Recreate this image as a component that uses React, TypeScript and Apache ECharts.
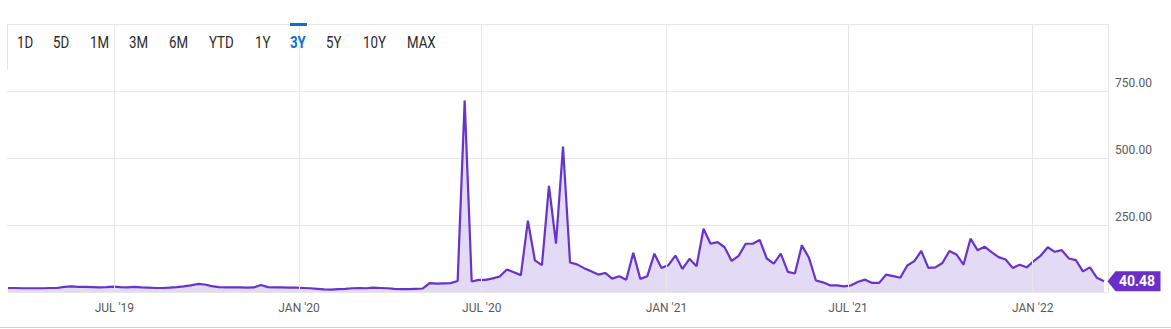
import React, { useEffect, useRef } from "react";
import * as echarts from "echarts";

// Weekly observations, first week starting 2019-03-17
const SERIES_START = [2019, 2, 17];
const weeklyValues: number[] = [
  15, 15, 14, 14, 14, 14, 15, 15, 19, 21,
  19, 19, 18, 17, 18, 20, 18, 17, 19, 17,
  16, 15, 15, 16, 18, 21, 25, 30, 28, 22,
  18, 17, 17, 17, 16, 17, 26, 18, 17, 17,
  16, 16, 15, 14, 12, 10, 9, 11, 12, 14,
  15, 14, 16, 15, 14, 12, 11, 11, 12, 13,
  33, 31, 32, 33, 41, 714, 39, 45, 45, 51,
  58, 84, 74, 63, 266, 118, 100, 396, 181, 543,
  110, 103, 89, 77, 65, 71, 50, 59, 46, 146,
  49, 59, 143, 90, 100, 136, 86, 124, 96, 236,
  180, 186, 167, 116, 135, 180, 180, 194, 125, 106,
  143, 75, 69, 174, 128, 43, 36, 25, 25, 21,
  25, 38, 46, 34, 34, 65, 59, 53, 99, 115,
  153, 90, 92, 108, 153, 140, 102, 199, 156, 169,
  149, 130, 121, 90, 102, 92, 115, 136, 167, 150,
  156, 125, 119, 77, 92, 53, 40.48,
];
const lastLabel = "40.48";

const xMin = "2019-03-16";
const xMax = "2022-03-17";
const xTickDates = ["2019-07-01", "2020-01-01", "2020-07-01", "2021-01-01", "2021-07-01", "2022-01-01"];
const xTickLabels = ["JUL '19", "JAN '20", "JUL '20", "JAN '21", "JUL '21", "JAN '22"];

const yTicks = [0, 250, 500, 750, 1000];
const yLabelTicks = [250, 500, 750];

const rangeButtons = ["1D", "5D", "1M", "3M", "6M", "YTD", "1Y", "3Y", "5Y", "10Y", "MAX"];
const activeButton = "3Y";
const buttonX = [17, 53, 90, 129, 169, 209, 255, 290, 326, 363, 407];

function parseDay(s: string): number {
  const [y, m, d] = s.split("-").map(Number);
  return new Date(y, m - 1, d).getTime();
}

export default function App() {
  const ref = useRef<HTMLDivElement>(null);

  useEffect(() => {
    if (!ref.current) return;
    const chart = echarts.init(ref.current, undefined, { renderer: "svg" });

    const data = weeklyValues.map((v, i) => {
      const t = new Date(SERIES_START[0], SERIES_START[1], SERIES_START[2] + i * 7).getTime();
      return [t, v];
    });
    const last = data[data.length - 1];
    const tickTimes = xTickDates.map(parseDay);

    const buttons: any[] = rangeButtons.map((b, i) => ({
      type: "text",
      x: buttonX[i],
      y: 43,
      scaleX: 0.83,
      z: 100,
      silent: true,
      style: {
        text: b,
        x: 0,
        y: 0,
        fontFamily: "Roboto",
        fontSize: 16,
        fontWeight: b === activeButton ? "bold" : "normal",
        fill: b === activeButton ? "#0b6fcf" : "#2a2a2a",
        textAlign: "left",
        textVerticalAlign: "middle",
      },
    }));
    const activeIdx = rangeButtons.indexOf(activeButton);

    chart.setOption({
      animation: false,
      textStyle: { fontFamily: "Roboto" },
      grid: { left: 7, right: 63, top: 24, bottom: 37 },
      xAxis: {
        type: "value",
        min: parseDay(xMin),
        max: parseDay(xMax),
        axisLine: { show: false },
        axisTick: { show: false },
        splitLine: { show: false },
        axisLabel: {
          customValues: tickTimes,
          formatter: (v: number) => {
            const idx = tickTimes.findIndex((t) => Math.abs(t - v) < 86400000);
            return idx >= 0 ? xTickLabels[idx] : "";
          },
          color: "#5a5a5a",
          fontSize: 12,
          fontFamily: "Roboto",
          margin: 10,
          hideOverlap: false,
        },
      },
      yAxis: {
        type: "value",
        position: "right",
        min: yTicks[0],
        max: yTicks[yTicks.length - 1],
        interval: 250,
        axisLine: { show: true, lineStyle: { color: "#e3e3e3", width: 1 } },
        axisTick: { show: false },
        splitLine: { show: true, lineStyle: { color: "#e6e6e6", width: 1 } },
        axisLabel: {
          formatter: (v: number) => (yLabelTicks.includes(v) ? v.toFixed(2) : ""),
          color: "#5a5a5a",
          fontSize: 12,
          fontFamily: "Roboto",
          margin: 7,
          verticalAlign: "bottom",
          lineHeight: 17,
        },
      },
      graphic: [
        ...buttons,
        {
          type: "rect",
          silent: true,
          z: 100,
          shape: { x: buttonX[activeIdx], y: 23, width: 17, height: 3 },
          style: { fill: "#0b6fcf" },
        },
        {
          type: "line",
          silent: true,
          z: 100,
          shape: { x1: 7.5, y1: 24, x2: 7.5, y2: 70 },
          style: { stroke: "#e6e6e6", lineWidth: 1 },
        },
        {
          type: "rect",
          silent: true,
          z: 100,
          shape: { x: 0, y: 327, width: 1171, height: 1 },
          style: { fill: "#cfcfcf" },
        },
      ],
      series: [
        {
          type: "line",
          data: [[tickTimes[0], 0]],
          z: 1,
          silent: true,
          symbol: "none",
          lineStyle: { opacity: 0 },
          markLine: {
            silent: true,
            symbol: "none",
            label: { show: false },
            lineStyle: { color: "#e6e6e6", type: "solid", width: 1 },
            data: tickTimes.map((t) => ({ xAxis: t })),
          },
        },
        {
          type: "line",
          data,
          z: 3,
          symbol: "none",
          showSymbol: false,
          lineStyle: { color: "#6633cc", width: 2.2 },
          itemStyle: { color: "#6633cc" },
          areaStyle: { color: "rgba(102,51,204,0.26)" },
          markPoint: {
            silent: true,
            symbol: "path://M0,10 L8,0 L53,0 L53,20 L8,20 Z",
            symbolSize: [53, 20],
            symbolKeepAspect: false,
            symbolOffset: [30, 0],
            itemStyle: { color: "#6a2fc9" },
            label: {
              show: true,
              position: "inside",
              offset: [3, 0],
              formatter: lastLabel,
              color: "#ffffff",
              fontWeight: "bold",
              fontSize: 14,
              fontFamily: "Roboto",
            },
            data: [{ coord: last }],
          },
        },
      ],
    });

    return () => chart.dispose();
  }, []);

  return (
    <div
      ref={ref}
      style={{ position: "fixed", left: 0, top: 0, width: 1171, height: 329, background: "#fff" }}
    />
  );
}
